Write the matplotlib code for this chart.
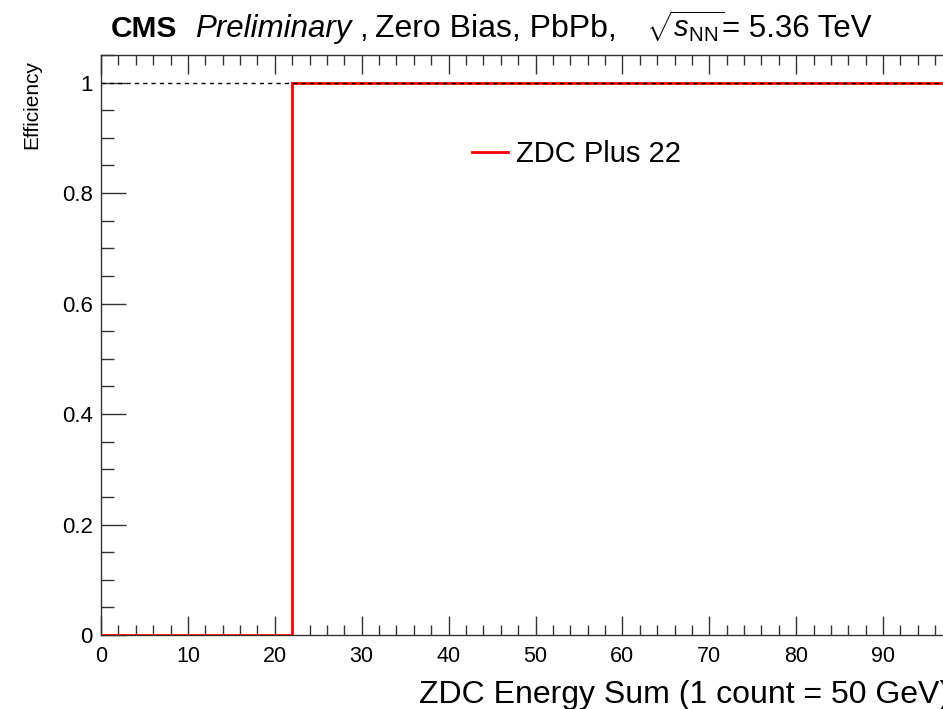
import matplotlib
matplotlib.use("Agg")
import matplotlib.pyplot as plt
from matplotlib.ticker import MultipleLocator

plt.rcParams['font.family'] = 'Liberation Sans'
plt.rcParams['mathtext.fontset'] = 'custom'
plt.rcParams['mathtext.rm'] = 'Liberation Sans'
plt.rcParams['mathtext.it'] = 'Liberation Sans:italic'
plt.rcParams['mathtext.bf'] = 'Liberation Sans:bold'

# trigger efficiency vs ZDC energy sum (counts), one value per bin range
bin_edges = [0, 22, 100]
efficiency = [0, 1]
series_label = 'ZDC Plus 22'

x_range = (0, 100)
y_range = (0, 1.05)

W, H = 943, 709
fig = plt.figure(figsize=(W / 100, H / 100), dpi=100)
# frame runs past the right edge of the canvas
ax = fig.add_axes([101 / W, 74 / H, 869 / W, 580 / H])

ax.stairs(efficiency, bin_edges, color='red', lw=2.0, label=series_label, zorder=3)
ax.axhline(1, color='black', lw=1.0, dashes=(3, 3), zorder=4)

ax.set_xlim(*x_range)
ax.set_ylim(*y_range)

ax.xaxis.set_major_locator(MultipleLocator(10))
ax.xaxis.set_minor_locator(MultipleLocator(2))
ax.yaxis.set_major_locator(MultipleLocator(0.2))
ax.yaxis.set_minor_locator(MultipleLocator(0.05))
ax.yaxis.set_major_formatter(plt.FuncFormatter(lambda v, p: f'{v:g}'))

ax.tick_params(axis='x', which='both', direction='in', top=True, bottom=True,
               labelsize=15.5, pad=8, color='#333333', width=1)
ax.tick_params(axis='x', which='major', length=14)
ax.tick_params(axis='x', which='minor', length=7)
ax.tick_params(axis='y', which='both', direction='in', left=True, right=True,
               labelsize=16, pad=6, color='#333333', width=1)
ax.tick_params(axis='y', which='major', length=18)
ax.tick_params(axis='y', which='minor', length=9.5)
for s in ax.spines.values():
    s.set_color('#333333')
    s.set_linewidth(1)

ax.set_xlabel('ZDC Energy Sum (1 count = 50 GeV)', fontsize=23, ha='right', va='baseline')
ax.xaxis.set_label_coords((950 - 101) / 869, (635 - 703) / 580)
ax.set_ylabel('Efficiency', fontsize=15, ha='right', va='center')
ax.yaxis.set_label_coords((32 - 101) / 869, (635 - 60) / 580)

ax.legend(loc='center left', bbox_to_anchor=(0.427, 0.8295), frameon=False,
          fontsize=21, handlelength=1.23, handletextpad=0.27, borderpad=0, borderaxespad=0)

# header pieces: experiment tag, status, dataset, energy
ty = 1 - 37 / H
fig.text(111 / W, ty, 'CMS', fontsize=21.5, fontweight='bold', va='baseline')
fig.text(195 / W, ty, 'Preliminary', fontsize=22.5, style='italic', va='baseline')
fig.text(359 / W, ty, ',', fontsize=22, va='baseline')
fig.text(375 / W, ty, 'Zero Bias, PbPb,', fontsize=23, va='baseline')
fig.text(646 / W, ty, r'$\sqrt{s_{\mathrm{NN}}}$', fontsize=21, va='baseline')
fig.text(722 / W, ty, '= 5.36 TeV', fontsize=22.5, va='baseline')

fig.savefig('out.png', dpi=100)
